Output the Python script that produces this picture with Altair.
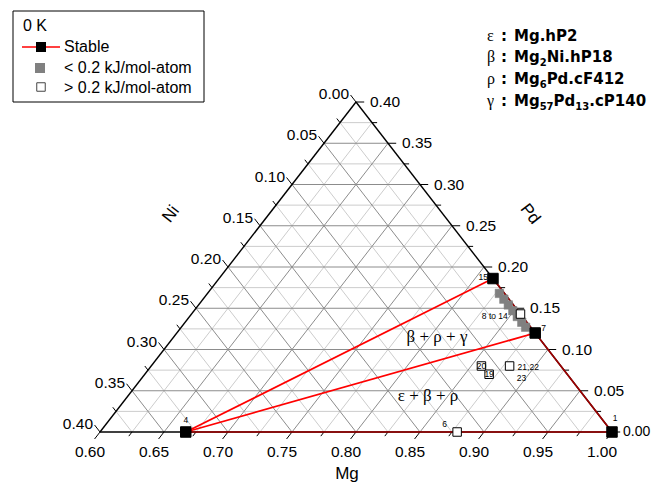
import altair as alt
import pandas as pd

# ---------------- data (mole fractions Mg, Ni, Pd) ----------------
stable_id = ["1", "4", "15", "7"]
stable_mg = [1.000, 0.667, 0.814, 0.880]
stable_ni = [0.000, 0.333, 0.000, 0.000]
stable_pd = [0.000, 0.000, 0.186, 0.120]

# < 0.2 kJ/mol-atom above hull (structures 8 to 14)
near_mg = [0.828, 0.835, 0.842, 0.849, 0.856, 0.863, 0.869]
near_ni = [0.004, 0.004, 0.004, 0.004, 0.004, 0.004, 0.004]
near_pd = [0.168, 0.161, 0.154, 0.147, 0.140, 0.133, 0.127]

# > 0.2 kJ/mol-atom above hull
above_id = ["6", "20", "19", "21", "m6"]
above_mg = [0.879, 0.858, 0.869, 0.880, 0.857]
above_ni = [0.121, 0.062, 0.061, 0.040, 0.000]
above_pd = [0.000, 0.080, 0.070, 0.080, 0.143]

# tie lines between stable phases
tie_from = ["4", "4", "4", "1", "7"]
tie_to = ["15", "7", "1", "7", "15"]

mg_labels = ["0.60", "0.65", "0.70", "0.75", "0.80", "0.85", "0.90", "0.95", "1.00"]
ni_labels = ["0.00", "0.05", "0.10", "0.15", "0.20", "0.25", "0.30", "0.35", "0.40"]
pd_labels = ["0.00", "0.05", "0.10", "0.15", "0.20", "0.25", "0.30", "0.35", "0.40"]

# ---------------- helpers ----------------
W, H = 643, 475
XS = alt.Scale(domain=[-92 / 1280, (W - 92) / 1280], nice=False, zero=False)
YS = alt.Scale(domain=[(424 - H) / 825, 424 / 825], nice=False, zero=False)
one = pd.DataFrame({"k": [0]})


def cart(mg, ni, p):
    return mg - 0.6 + p / 2.0, p


def seg(df, color, width):
    return alt.Chart(df).mark_rule(color=color, strokeWidth=width).encode(
        x=alt.X("x:Q", scale=XS, axis=None),
        y=alt.Y("y:Q", scale=YS, axis=None),
        x2="x2:Q", y2="y2:Q")


def txt(s, x, y, size=15, bold=False, font="Liberation Sans", align="left",
        baseline="middle", angle=0, color="black"):
    return alt.Chart(one).mark_text(
        text=s, align=align, baseline=baseline, fontSize=size,
        fontWeight="bold" if bold else "normal", font=font, angle=angle,
        color=color).encode(x=alt.value(x - 8), y=alt.value(y - 8))


# ---------------- grid ----------------
grid_rows = []
for i in range(1, 16):
    v = i * 0.025
    major = (i % 2 == 0)
    grid_rows.append(dict(x=v / 2, y=v, x2=0.4 - v / 2, y2=v, major=major))
    grid_rows.append(dict(x=0.4 - v, y=0.0, x2=(0.4 - v) / 2, y2=0.4 - v, major=major))
    grid_rows.append(dict(x=v, y=0.0, x2=v + (0.4 - v) / 2, y2=0.4 - v, major=major))
grid = pd.DataFrame(grid_rows)
grid_minor = seg(grid[~grid.major], "#cccccc", 1)
grid_major = seg(grid[grid.major], "#8c8c8c", 1)

edges = pd.DataFrame([
    dict(x=0.0, y=0.0, x2=0.4, y2=0.0),
    dict(x=0.0, y=0.0, x2=0.2, y2=0.4),
    dict(x=0.2, y=0.4, x2=0.4, y2=0.0),
])
edge_layer = seg(edges, "black", 1.4)

tick_rows = []
for i in range(17):
    v = i * 0.025
    d = 0.0085 if i % 2 == 0 else 0.005
    dr = 0.0064 if i % 2 == 0 else 0.004
    tick_rows.append(dict(x=v, y=0.0, x2=v - d / 2, y2=-d))
    p = 0.4 - v
    tick_rows.append(dict(x=p / 2, y=p, x2=p / 2 - d / 2, y2=p + d))
    tick_rows.append(dict(x=0.4 - v / 2, y=v, x2=0.4 - v / 2 + dr, y2=v))
tick_layer = seg(pd.DataFrame(tick_rows), "black", 1)

# tick labels
bl = pd.DataFrame({"t": mg_labels})
bl["x"] = bl.t.astype(float) - 0.6
bl["y"] = 0.0
ll = pd.DataFrame({"t": ni_labels})
ll["p"] = 0.4 - ll.t.astype(float)
ll["x"] = ll.p / 2
ll["y"] = ll.p
rl = pd.DataFrame({"t": pd_labels})
rl["x"] = 0.4 - rl.t.astype(float) / 2
rl["y"] = rl.t.astype(float)


def lab(df, align, dx, dy, size=15.5):
    return alt.Chart(df).mark_text(align=align, baseline="middle", dx=dx, dy=dy,
                                   fontSize=size, font="Liberation Sans", color="black").encode(
        x=alt.X("x:Q", scale=XS, axis=None), y=alt.Y("y:Q", scale=YS, axis=None), text="t:N")


bottom_labels = lab(bl, "center", -10, 20)
left_labels = lab(ll, "right", -7, -8)
right_labels = lab(rl[rl.y > 0], "left", 14, 0)
# the corner label sits right at the page edge: keep it inside the drawing
right_corner = lab(rl[rl.y == 0], "left", 11, 0, size=14)

# ---------------- points ----------------
st = pd.DataFrame({"id": stable_id, "mg": stable_mg, "ni": stable_ni, "pd": stable_pd})
st["x"], st["y"] = cart(st.mg, st.ni, st.pd)
nr = pd.DataFrame({"mg": near_mg, "ni": near_ni, "pd": near_pd})
nr["x"], nr["y"] = cart(nr.mg, nr.ni, nr.pd)
ab = pd.DataFrame({"id": above_id, "mg": above_mg, "ni": above_ni, "pd": above_pd})
ab["x"], ab["y"] = cart(ab.mg, ab.ni, ab.pd)

pos = {r.id: (r.x, r.y) for r in st.itertuples()}
sti = st.set_index("id")
ties = pd.DataFrame({"a": tie_from, "b": tie_to})
ties["x"] = [pos[a][0] for a in ties.a]
ties["y"] = [pos[a][1] for a in ties.a]
ties["x2"] = [pos[b][0] for b in ties.b]
ties["y2"] = [pos[b][1] for b in ties.b]
ties["edge"] = [(sti.loc[a, "ni"] == 0 and sti.loc[b, "ni"] == 0) or
                (sti.loc[a, "pd"] == 0 and sti.loc[b, "pd"] == 0)
                for a, b in zip(ties.a, ties.b)]
tie_inner = seg(ties[~ties.edge], "#ff0000", 1.8)
tie_edge = seg(ties[ties.edge], "#a00000", 1.6)


def pts(df, fill, stroke, size, sw=1):
    return alt.Chart(df).mark_square(size=size, fill=fill, stroke=stroke, strokeWidth=sw,
                                     opacity=1, filled=True).encode(
        x=alt.X("x:Q", scale=XS, axis=None), y=alt.Y("y:Q", scale=YS, axis=None))


near_layer = pts(nr, "#808080", "#808080", 72, 0.5)
above_layer = pts(ab, "white", "black", 72, 1)
stable_layer = pts(st, "black", "black", 110, 1)

# point labels
apos = {r.id: (r.x, r.y) for r in ab.itertuples()}
label_specs = [
    ("1", pos["1"], "center", 3, -14),
    ("4", pos["4"], "center", 0, -12),
    ("15", pos["15"], "right", -5, -2),
    ("7", pos["7"], "left", 6, -5),
    ("6", apos["6"], "center", -12.5, -8),
    ("20", apos["20"], "center", 0, 0),
    ("19", apos["19"], "center", 0, 0),
    ("21,22", apos["21"], "left", 8, 1),
    ("23", apos["21"], "center", 12, 12),
    ("8 to 14", (nr.x[3], nr.y[3]), "center", -18, 5.5),
]
pt_labels = []
for s, (px, py), al, dx, dy in label_specs:
    pt_labels.append(
        alt.Chart(pd.DataFrame({"x": [px], "y": [py]})).mark_text(
            text=s, align=al, baseline="middle", dx=dx, dy=dy, fontSize=8.5,
            font="Liberation Sans", color="black").encode(
            x=alt.X("x:Q", scale=XS, axis=None), y=alt.Y("y:Q", scale=YS, axis=None)))

# ---------------- annotations ----------------
annot = [
    txt("β + ρ + γ", 437, 337, size=17, font="Liberation Serif", align="center"),
    txt("ε + β + ρ", 428, 396, size=17, font="Liberation Serif", align="center"),
    txt("Mg", 347, 483, size=17, align="center", baseline="bottom"),
    txt("Ni", 171, 214, size=17, align="center", angle=308),
    txt("Pd", 530, 214, size=17, align="center", angle=52),
]

# legend box
legend_box = alt.Chart(one).mark_rect(fill="white", stroke="black", strokeWidth=1).encode(
    x=alt.value(5), x2=alt.value(196), y=alt.value(3), y2=alt.value(94))
legend_line = alt.Chart(one).mark_rule(color="#ff0000", strokeWidth=1.6).encode(
    x=alt.value(14), x2=alt.value(52), y=alt.value(39))
leg_sq1 = alt.Chart(one).mark_square(size=100, color="black", opacity=1).encode(
    x=alt.value(33), y=alt.value(39))
leg_sq2 = alt.Chart(one).mark_square(size=100, color="#808080", opacity=1).encode(
    x=alt.value(32), y=alt.value(60))
leg_sq3 = alt.Chart(one).mark_square(size=72, fill="white", stroke="#444444", strokeWidth=1,
                                     filled=True, opacity=1).encode(
    x=alt.value(33), y=alt.value(79))
legend = [
    legend_box, legend_line, leg_sq1, leg_sq2, leg_sq3,
    txt("0 K", 23, 26, size=16),
    txt("Stable", 64, 47, size=16),
    txt("< 0.2 kJ/mol-atom", 64, 68, size=16),
    txt("> 0.2 kJ/mol-atom", 64, 88, size=16),
]

# phase key (top right)
F = "DejaVu Sans"
FS = 15
SS = 10
key = []
rows = [("ε", 41, [("Mg.hP2", 0)]),
        ("β", 62, [("Mg", 0), ("2", 1), ("Ni.hP18", 0)]),
        ("ρ", 84, [("Mg", 0), ("6", 1), ("Pd.cF412", 0)]),
        ("γ", 106, [("Mg", 0), ("57", 1), ("Pd", 0), ("13", 1), (".cP140", 0)])]
w_big = {"M": 0.995, "g": 0.716, "N": 0.837, "i": 0.343, ".": 0.380, "h": 0.712, "P": 0.733,
         "d": 0.716, "c": 0.593, "F": 0.683}
for greek, base, pieces in rows:
    key.append(txt(greek, 487, base, size=16, font="Liberation Serif", baseline="alphabetic"))
    key.append(txt(":", 501, base, size=FS, bold=True, font=F, baseline="alphabetic"))
    x = 514.0
    for s, sub in pieces:
        size = SS if sub else FS
        key.append(txt(s, x, base + (4 if sub else 0), size=size, bold=True, font=F,
                       baseline="alphabetic"))
        x += sum(w_big.get(ch, 0.696) for ch in s) * size

chart = alt.layer(
    grid_minor, grid_major, edge_layer, tick_layer,
    tie_inner, tie_edge,
    near_layer, above_layer, stable_layer,
    bottom_labels, left_labels, right_labels, right_corner,
    *pt_labels, *annot, *legend, *key
).properties(
    width=W, height=H, padding=0, autosize="none"
).configure_view(stroke=None)

chart.save("out.html", embed_options={"renderer": "svg", "actions": False})
